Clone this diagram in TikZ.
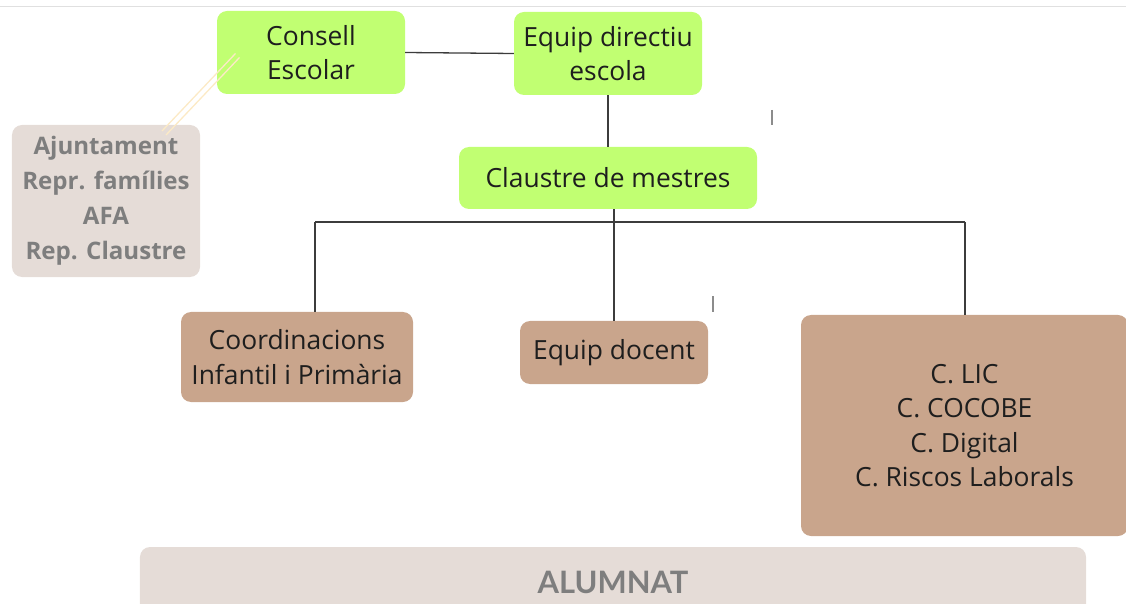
\documentclass[tikz,border=0pt]{standalone}
\usepackage{fontspec}
\setmainfont{Open Sans}
\newfontfamily\alumfont{Lato}
\usetikzlibrary{positioning}
\definecolor{lime}{HTML}{C1FF72}
\definecolor{tan}{HTML}{C9A58C}
\definecolor{sand}{HTML}{E5DCD7}
\definecolor{cream}{HTML}{FCEAC6}
\definecolor{ink}{HTML}{1E1E1E}
\definecolor{greytext}{HTML}{7E7E7E}
\definecolor{wire}{HTML}{3C3C3C}
\begin{document}
\begin{tikzpicture}[x=1bp,y=-1bp,
  box/.style={rounded corners=10bp,inner sep=0pt,align=center,text=ink,
    font=\fontsize{26.5}{34.5}\selectfont},
  greenbox/.style={box,fill=lime},
  tanbox/.style={box,fill=tan},
  sandbox/.style={box,fill=sand,text=greytext,font=\fontsize{24.2}{35}\selectfont\bfseries},
  wireline/.style={draw=wire,line width=1.3bp}]
\useasboundingbox (0,0) rectangle (1126,604);
\draw[black!12,line width=1bp] (0,7) -- (1126,7);
% top row
\node[greenbox,minimum width=188bp,minimum height=83bp] (cons) at (311,52.5) {Consell\\Escolar};
\node[greenbox,minimum width=188bp,minimum height=83bp] (dir) at (608,53.5) {Equip directiu\\escola};
\node[greenbox,minimum width=298bp,minimum height=62bp] (claus) at (608,178) {Claustre de mestres};
\node[sandbox,minimum width=188bp,minimum height=152bp] (ajunt) at (106,201) {Ajuntament\\Repr. famílies\\AFA\\Rep. Claustre};
% second row
\node[tanbox,minimum width=232bp,minimum height=90bp] (coord) at (297,357) {Coordinacions\\Infantil i Primària};
\node[tanbox,minimum width=188bp,minimum height=63bp] (docent) at (614,352.5) {Equip docent};
\node[tanbox,minimum width=327bp,minimum height=221bp] (comis) at (964.5,425.5) {C. LIC\\C. COCOBE\\C. Digital\\C. Riscos Laborals};
\node[sandbox,minimum width=946bp,minimum height=70bp,font=\alumfont\fontsize{31}{34}\selectfont\bfseries] (alum) at (613,582) {ALUMNAT};
% connectors
\coordinate (busL) at (315,222);
\coordinate (busR) at (965,222);
\draw[wireline] (cons.east) -- (dir.west);
\draw[wireline] (dir.south) -- (claus.north);
\draw[wireline] (claus.south -| docent.north) -- (docent.north);
\draw[wireline] (busL) -- (busR);
\draw[wireline] (busL) -- (coord.north -| busL);
\draw[wireline] (busR) -- (comis.north -| busR);
\coordinate (linkA) at (237.5,55.5);
\coordinate (linkB) at (164,133);
\draw[cream,line width=1.3bp] ([shift={(-2,-2)}]linkA) -- ([shift={(-2,-2)}]linkB);
\draw[cream,line width=1.3bp] ([shift={(2,2)}]linkA) -- ([shift={(2,2)}]linkB);
% stray ticks
\draw[black!45,line width=1.3bp] (772,110) -- (772,125);
\draw[black!45,line width=1.3bp] (713,296) -- (713,312);
\end{tikzpicture}
\end{document}
